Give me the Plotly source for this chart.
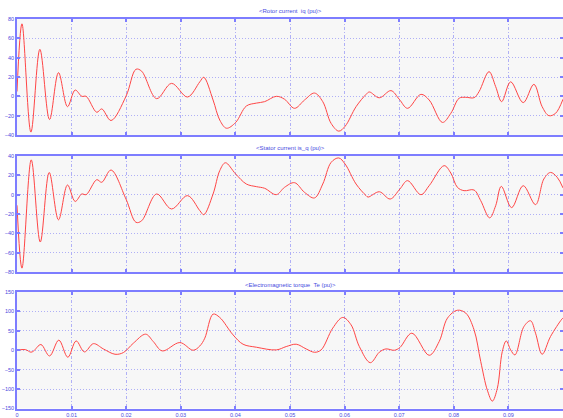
import plotly.graph_objects as go

# ---------------- data ----------------
t_rotor = [0, 0.00091, 0.00255, 0.00419, 0.00596, 0.0076, 0.00925, 0.01065, 0.01187, 0.01266,
           0.01461, 0.01552, 0.01722, 0.01996, 0.02179, 0.02283, 0.02557, 0.0283, 0.03123, 0.03348,
           0.03421, 0.03591, 0.03713, 0.03836, 0.04005, 0.04201, 0.04384, 0.04535, 0.04749, 0.049,
           0.05083, 0.05266, 0.05448, 0.056, 0.05753, 0.05893, 0.06009, 0.0621, 0.06393, 0.06453,
           0.06636, 0.06849, 0.07001, 0.07153, 0.07397, 0.07549, 0.07792, 0.07945, 0.08097, 0.08219,
           0.08371, 0.08462, 0.08645, 0.08767, 0.08877, 0.09041, 0.09271, 0.09467, 0.09618, 0.09741,
           0.09863, 0.1]
iq_rotor = [5, 75, -37, 48.6, -24, 24.5, -10.7, 6.5, 0, 0,
            -16.5, -13, -25, 0, 28, 26, -2.4, 13.4, -0.7, 15,
            19.7, -3.8, -24.5, -33, -27, -10, -7, -5.5, 0, -3,
            -12.4, -3.8, 3.4, -5.5, -28, -36, -31, -10.7, 2, 4.5,
            -1.5, 5.9, -3, -12.4, 2, -3.8, -27, -17.6, -2, -1,
            -1.4, 4.8, 25.5, 10, -5.5, 15, -6.5, 12.4, -10.7, -20,
            -17.6, -3]

t_stator = [0, 0.00091, 0.00261, 0.00426, 0.0059, 0.0076, 0.00925, 0.01065, 0.01187, 0.01266,
            0.01461, 0.01552, 0.01722, 0.01996, 0.02179, 0.02283, 0.02557, 0.0283, 0.03123, 0.03348,
            0.03421, 0.03591, 0.03713, 0.03817, 0.04005, 0.04201, 0.04384, 0.04535, 0.04749, 0.049,
            0.05083, 0.05266, 0.05448, 0.056, 0.05753, 0.05893, 0.06009, 0.0621, 0.06393, 0.0643,
            0.06636, 0.06835, 0.07013, 0.07153, 0.07397, 0.07549, 0.07823, 0.07945, 0.08066, 0.08188,
            0.08371, 0.08493, 0.08657, 0.08767, 0.0887, 0.09059, 0.09271, 0.09497, 0.09649, 0.09771,
            0.09893, 0.1]
iq_stator = [-11, -76, 36, -49, 23, -26, 10, -7, 0.7, 0,
             15.5, 12.8, 25.5, -4.5, -28.6, -27, 0.7, -14.8, -1, -16.5,
             -20.7, 0.7, 24.8, 33, 21.4, 11, 8.3, 6.6, 0, 7.6,
             12.4, 2.4, -3.4, 11, 33.4, 38, 31.7, 11, -1, -2.5,
             3, -4.5, 5.9, 14.5, 0, 9.3, 30, 22.4, 7.6, 4.1,
             4.8, -6.2, -24, -11.4, 8.6, -13.4, 9.3, -10.3, 16.2, 23,
             18, 7]

t_torque = [0, 0.00152, 0.00255, 0.00304, 0.00438, 0.00596, 0.00766, 0.00931, 0.01083, 0.01235,
            0.014, 0.01582, 0.01795, 0.01948, 0.0213, 0.02356, 0.02496, 0.0266, 0.02983, 0.03226,
            0.03348, 0.03439, 0.03591, 0.03713, 0.03957, 0.0414, 0.04384, 0.04749, 0.04931, 0.05114,
            0.05296, 0.05448, 0.0557, 0.05783, 0.05966, 0.06118, 0.0627, 0.06471, 0.06636, 0.06757,
            0.0691, 0.07013, 0.07232, 0.07549, 0.07732, 0.07884, 0.08066, 0.08219, 0.08371, 0.08493,
            0.08614, 0.08706, 0.08797, 0.08888, 0.08961, 0.09041, 0.0912, 0.09284, 0.09406, 0.09497,
            0.09618, 0.09771, 0.09978, 0.1]
te = [0, 1.7, -5, -2, 14.7, -14.7, 26, -18, 24, -4.3,
      17, 3.4, -10.3, -6, 18, 41.4, 22.4, -1.7, 19.8, 0,
      11, 31, 93, 84.5, 39.6, 15.5, 7.8, 0.9, 9.5, 15.5,
      3.4, -5.2, 0.9, 57, 84.5, 65.5, 9.5, -32, -5, 3.4,
      0, 7, 44, -13, 22.4, 82.8, 103, 95.7, 52.6, -29,
      -102.6, -131, -98, -3.4, 24, 0.9, -12, 61, 75.9, 44,
      -10.3, 35.3, 80, 83]

titles = ["&lt;Rotor current  iq (pu)&gt;",
          "&lt;Stator current is_q (pu)&gt;",
          "&lt;Electromagnetic torque  Te (pu)&gt;"]
x_ticks = [0, 0.01, 0.02, 0.03, 0.04, 0.05, 0.06, 0.07, 0.08, 0.09, 0.1]
x_ticklabels = ["0", "0.01", "0.02", "0.03", "0.04", "0.05", "0.06", "0.07", "0.08", "0.09", "0.1"]
y_ranges = [[-40, 80], [-80, 40], [-150, 150]]
y_dticks = [20, 20, 50]

# ---------------- style ----------------
W, H = 563, 418
FONT = "Liberation Sans Narrow, Arial Narrow, Liberation Sans, sans-serif"
FSIZE = 5.5
TSIZE = 6
FRAME = "#7d7dff"
GRID = "#b0b0f6"
TXT = "#4a4ae0"
LINE = "rgb(255,70,70)"
BG = "#f7f7f7"

panels_px = [(19, 135), (156, 272), (292, 408.5)]
title_px = [11, 148, 285]

fig = go.Figure()
series = [(t_rotor, iq_rotor), (t_stator, iq_stator), (t_torque, te)]
for i, (tx, ty) in enumerate(series):
    sfx = "" if i == 0 else str(i + 1)
    fig.add_trace(go.Scatter(x=tx, y=ty, mode="lines",
                             line=dict(color=LINE, width=1, shape="spline", smoothing=1.0),
                             xaxis="x" + sfx, yaxis="y" + sfx, showlegend=False,
                             hoverinfo="skip"))

layout = dict(width=W, height=H, paper_bgcolor="white", plot_bgcolor=BG,
              margin=dict(l=17, r=0, t=0, b=0), showlegend=False,
              font=dict(family=FONT, size=FSIZE, color=TXT))
annotations = []
for i in range(3):
    sfx = "" if i == 0 else str(i + 1)
    top, bot = panels_px[i]
    dom = [1 - bot / H, 1 - top / H]
    layout["xaxis" + sfx] = dict(
        domain=[0, 1], range=[0, 0.1], anchor="y" + sfx,
        tickvals=x_ticks, ticktext=x_ticklabels, showticklabels=(i == 2),
        showline=True, linecolor=FRAME, linewidth=1.5, mirror="ticks",
        ticks="inside", ticklen=3, tickwidth=1.5, tickcolor=FRAME,
        showgrid=True, gridcolor=GRID, griddash="3px,2px,1px,2px", gridwidth=1,
        zeroline=False, tickfont=dict(size=FSIZE, color=TXT, family=FONT),
        fixedrange=True, automargin=False)
    layout["yaxis" + sfx] = dict(
        domain=dom, range=y_ranges[i], anchor="x" + sfx, dtick=y_dticks[i],
        showline=True, linecolor=FRAME, linewidth=1.5, mirror="ticks",
        ticks="inside", ticklen=3, tickwidth=1.5, tickcolor=FRAME,
        showgrid=True, gridcolor=GRID, griddash="1px,2px", gridwidth=1,
        zeroline=False, tickfont=dict(size=FSIZE, color=TXT, family=FONT),
        fixedrange=True, automargin=False)
    annotations.append(dict(text=titles[i], xref="paper", yref="paper",
                            x=0.5, y=1 - title_px[i] / H, xanchor="center", yanchor="middle",
                            showarrow=False, font=dict(size=TSIZE, color=TXT, family=FONT)))
layout["annotations"] = annotations
fig.update_layout(**layout)
fig.write_html("out.html", config={"displayModeBar": False},
               post_script="document.body.style.margin='0';document.body.style.padding='0';")
